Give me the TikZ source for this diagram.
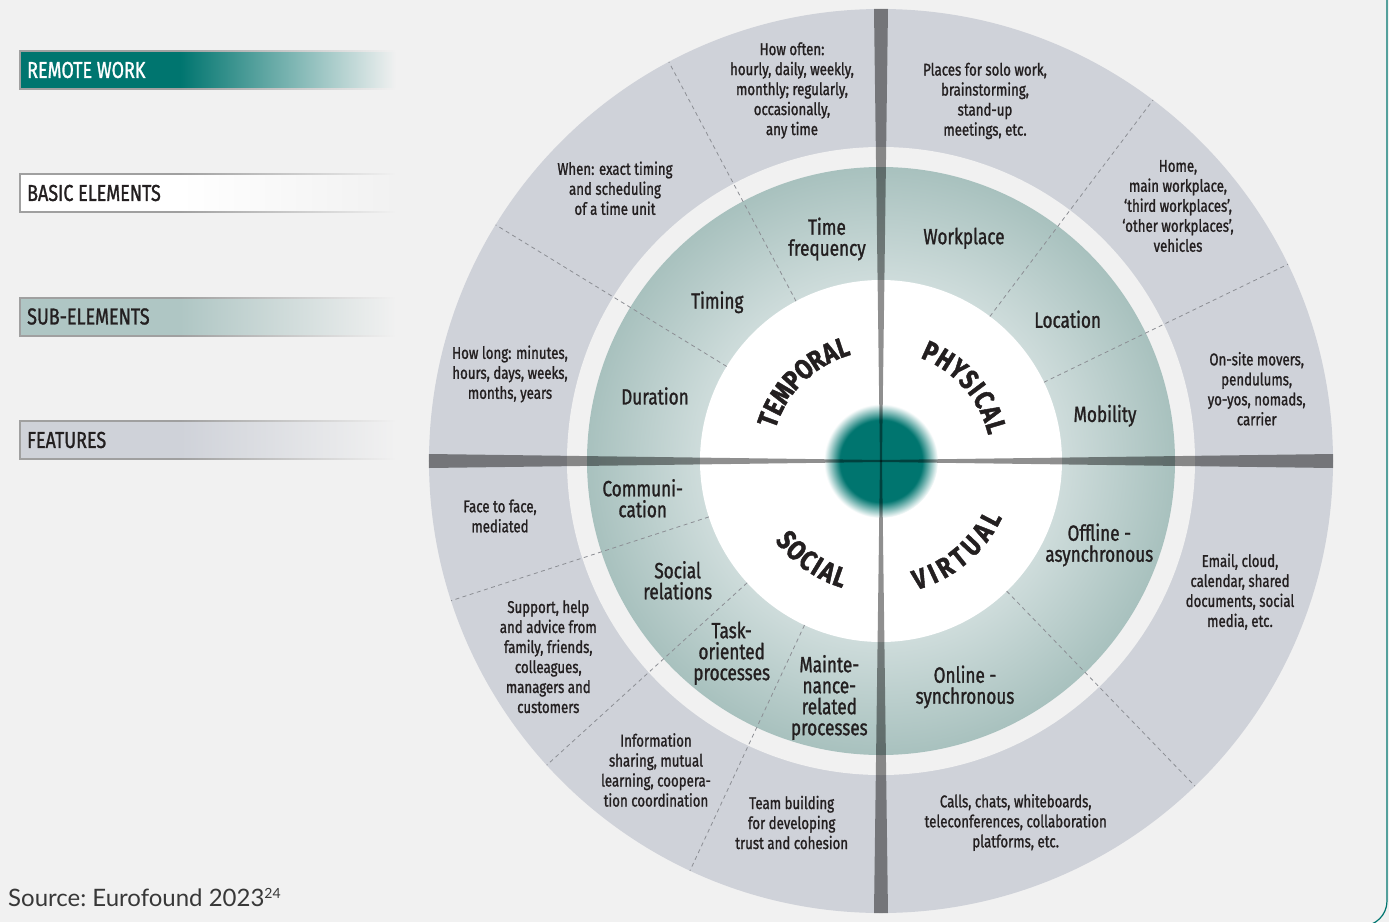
\documentclass[tikz,border=0pt]{standalone}
\usepackage{fontspec}
\setmainfont{Fira Sans}[FakeStretch=0.78,FakeBold=1.2]
\newfontfamily\quadfam{Fira Sans}[FakeStretch=0.82,FakeBold=1.5]
\newfontfamily\srcfam{Lato}
\definecolor{rwbg}{RGB}{241,241,241}
\definecolor{rwteal}{RGB}{0,117,111}
\definecolor{rwring}{RGB}{207,210,217}
\definecolor{rwsubout}{RGB}{168,193,190}
\definecolor{rwsubin}{RGB}{206,220,219}
\definecolor{rwsub}{RGB}{175,198,196}
\definecolor{rwdash}{RGB}{140,142,148}
\definecolor{rwedge}{RGB}{160,160,160}
\definecolor{rwtext}{RGB}{35,31,32}
\pgfdeclareradialshading{subring}{\pgfpoint{0bp}{0bp}}{color(0bp)=(rwsubin); color(15.4bp)=(rwsubin); color(25bp)=(rwsubout); color(50bp)=(rwsubout)}
\pgfdeclareradialshading{hub}{\pgfpoint{0bp}{0bp}}{color(0bp)=(rwteal); color(18bp)=(rwteal); color(25bp)=(white); color(50bp)=(white)}
% legend bars: solid on the left, running out into the page colour
\newcommand\legshade[2]{\pgfdeclarehorizontalshading{#1}{100bp}{color(0bp)=(#2); color(45bp)=(#2); color(72bp)=(rwbg); color(100bp)=(rwbg)}}
\legshade{legteal}{rwteal}
\legshade{legwhite}{white}
\legshade{legsub}{rwsub}
\legshade{legring}{rwring}
\legshade{legedge}{rwedge}

\begin{document}
\begin{tikzpicture}[x=1pt,y=1pt,
    feat/.style={align=center,inner sep=0pt,text=rwtext,font=\fontsize{17}{20}\selectfont},
    sub/.style={align=center,inner sep=0pt,text=rwtext,font=\fontsize{22}{21}\selectfont},
    legtext/.style={anchor=west,inner sep=0pt,font=\fontsize{23}{23}\selectfont},
    split/.style={rwdash,line width=0.8pt,dash pattern=on 4pt off 3.5pt},
    divider/.style={fill=black,opacity=0.44},
    quadletter/.style={inner sep=0pt,text=rwtext,font=\quadfam\bfseries\fontsize{28}{28}\selectfont}
  ]
  \useasboundingbox (-881,-461) rectangle (508,461);
  \clip (-881,-461) rectangle (508,461);
  \fill[rwbg] (-881,-461) rectangle (508,461);

  % legend
  \foreach \y/\s in {372/legteal,249/legwhite,125/legsub,2/legring} {
    \shade[shading=\s] (-861,\y) rectangle (-461,\y+38);
    \shade[shading=legedge] (-861,\y-0.7) rectangle (-461,\y+0.7);
    \shade[shading=legedge] (-861,\y+37.3) rectangle (-461,\y+38.7);
    \fill[rwedge] (-861.7,\y-0.7) rectangle (-860.3,\y+38.7);
  }
  \node[legtext,text=white] (remote) at (-854,391) {REMOTE WORK};
  \node[legtext,text=rwtext] (basic) at (-854,268) {BASIC ELEMENTS};
  \node[legtext,text=rwtext] (subel) at (-854,144.5) {SUB-ELEMENTS};
  \node[legtext,text=rwtext] (features) at (-854,21) {FEATURES};

  % rings
  \fill[rwring] (0,0) circle[radius=452];
  \fill[rwbg] (0,0) circle[radius=314];
  \shade[shading=subring] (0,0) circle[radius=294];
  \fill[white] (0,0) circle[radius=181];
  \shade[shading=hub] (0,0) circle[radius=57];

  \foreach \a in {118,148.5,53,25.8,-46,198,222.3,245}
    \draw[split] (\a:181) -- (\a:452);
  \foreach \a in {0,90,180,270}
    \fill[divider,rotate=\a] (0,-1) -- (452,-7) -- (452,7) -- (0,1) -- cycle;

  % basic elements, letter by letter round the hub
  \foreach \ch/\a [count=\i] in {T/160,E/153.4,M/145.6,P/137.6,O/130.1,R/122.7,A/115.4,L/108.7}
    \node[quadletter,rotate=\a-90] (temporal-\i) at (\a:120) {\ch};
  \foreach \ch/\a [count=\i] in {P/65.6,H/57.7,Y/49.9,S/42.8,I/37,C/31,A/23.5,L/16.5}
    \node[quadletter,rotate=\a-90] (physical-\i) at (\a:120) {\ch};
  \foreach \ch/\a [count=\i] in {S/219.8,O/226.6,C/233.6,I/238.8,A/244.2,L/250.5}
    \node[quadletter,rotate=\a+90] (social-\i) at (\a:123) {\ch};
  \foreach \ch/\a [count=\i] in {V/-71.9,I/-65.3,R/-58.9,T/-51.2,U/-43.2,A/-34.95,L/-27.6}
    \node[quadletter,rotate=\a+90] (virtual-\i) at (\a:124) {\ch};

  % sub-elements
  \node[sub] (freq) at (-54,222) {Time\\frequency};
  \node[sub] (timing) at (-163.7,158.7) {Timing};
  \node[sub] (duration) at (-226,65) {Duration};
  \node[sub] (workplace) at (83,222.7) {Workplace};
  \node[sub] (location) at (186.7,141.7) {Location};
  \node[sub] (mobility) at (224,45.3) {Mobility};
  \node[sub] (offline) at (218.3,-84) {Offline -\\asynchronous};
  \node[sub] (online) at (84,-226) {Online -\\synchronous};
  \node[sub] (comm) at (-238.3,-37.3) {Communi-\\cation};
  \node[sub] (social) at (-203.3,-119.3) {Social\\relations};
  \node[sub] (task) at (-149.3,-192.3) {Task-\\oriented\\processes};
  \node[sub] (maint) at (-51.7,-236.5) {Mainte-\\nance-\\related\\processes};

  % features
  \node[feat] (often) at (-89,370.5) {How often:\\hourly, daily, weekly,\\monthly; regularly,\\occasionally,\\any time};
  \node[feat] (places) at (104,360) {Places for solo work,\\brainstorming,\\stand-up\\meetings, etc.};
  \node[feat] (home) at (297,255) {Home,\\main workplace,\\‘third workplaces’,\\‘other workplaces’,\\vehicles};
  \node[feat] (onsite) at (375.7,72.2) {On-site movers,\\pendulums,\\yo-yos, nomads,\\carrier};
  \node[feat] (email) at (359,-130.7) {Email, cloud,\\calendar, shared\\documents, social\\media, etc.};
  \node[feat] (calls) at (134.7,-361.5) {Calls, chats, whiteboards,\\teleconferences, collaboration\\platforms, etc.};
  \node[feat] (team) at (-89.3,-361.5) {Team building\\for developing\\trust and cohesion};
  \node[feat] (info) at (-225,-309) {Information\\sharing, mutual\\learning, coopera-\\tion coordination};
  \node[feat] (support) at (-332.7,-195.7) {Support, help\\and advice from\\family, friends,\\colleagues,\\managers and\\customers};
  \node[feat] (face) at (-381,-55) {Face to face,\\mediated};
  \node[feat] (howlong) at (-371,87) {How long: minutes,\\hours, days, weeks,\\months, years};
  \node[feat] (when) at (-266,272.7) {When: exact timing\\and scheduling\\of a time unit};

  \node[anchor=base west,inner sep=0pt,text=black!78,font=\srcfam\frenchspacing\fontsize{24}{26}\selectfont] (source) at (-873,-445)
    {Source: Eurofound 2023\raisebox{8pt}{\fontsize{14}{14}\selectfont 24}};

  \draw[rwteal,line width=1.2pt,rounded corners=25pt] (506,470) -- (506,-465) -- (300,-465);
\end{tikzpicture}
\end{document}
